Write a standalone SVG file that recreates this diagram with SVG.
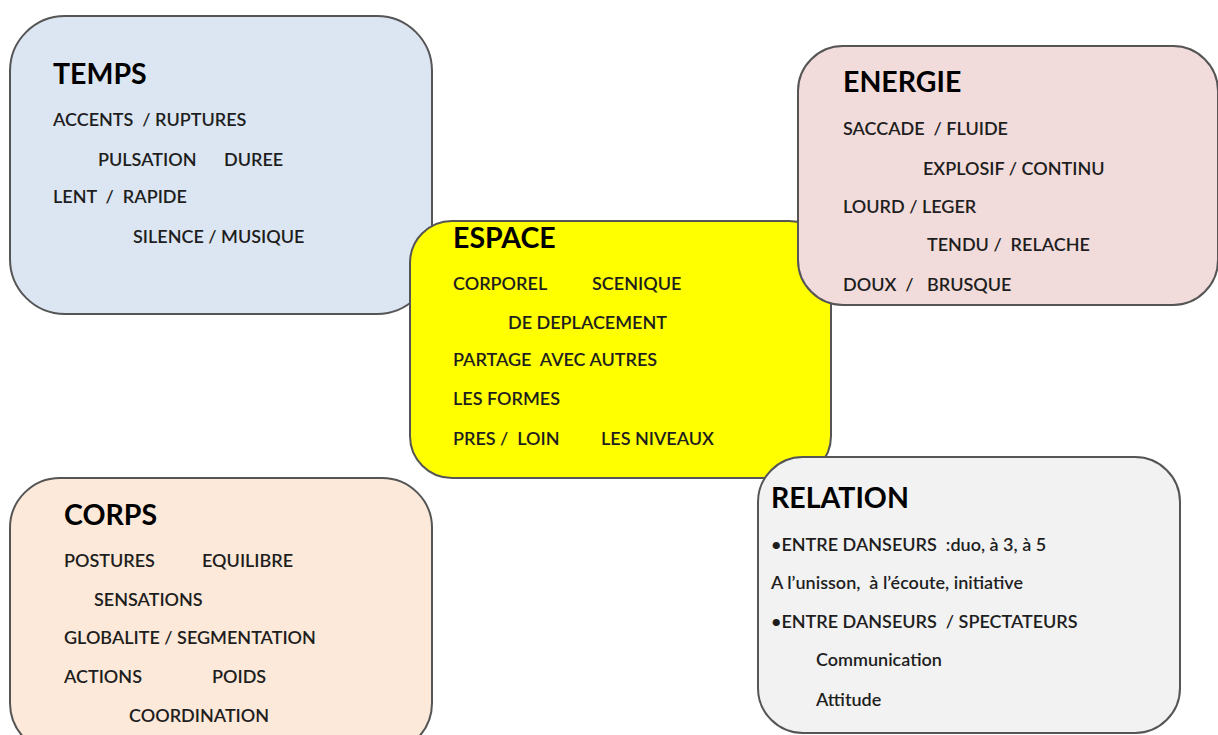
<svg xmlns="http://www.w3.org/2000/svg" width="1218" height="735" viewBox="0 0 1218 735">
<style>
.box{stroke:#555;stroke-width:2}
text{white-space:pre}
.t{font-family:Lato,"Open Sans","Liberation Sans",sans-serif;font-weight:bold;font-size:28.5px;fill:#000}
.b{font-family:Lato,"Open Sans","Liberation Sans",sans-serif;font-size:18px;fill:#1e1e1e;font-weight:600}
</style>
<rect width="1218" height="735" fill="#fff"/>
<g id="temps">
<rect class="box" x="10" y="16" width="422" height="298" rx="55" fill="#dce6f2"/>
<text class="t" x="53" y="84">TEMPS</text>
<text class="b" x="53" y="126" xml:space="preserve">ACCENTS  / RUPTURES</text>
<text class="b" x="98" y="166">PULSATION</text>
<text class="b" x="224" y="166">DUREE</text>
<text class="b" x="53" y="203" xml:space="preserve">LENT  /  RAPIDE</text>
<text class="b" x="133" y="243">SILENCE / MUSIQUE</text>
</g>
<g id="espace">
<rect class="box" x="410" y="221" width="421" height="257" rx="42" fill="#ffff00"/>
<text class="t" x="453" y="248">ESPACE</text>
<text class="b" x="453" y="290">CORPOREL</text>
<text class="b" x="592" y="290">SCENIQUE</text>
<text class="b" x="508" y="329">DE DEPLACEMENT</text>
<text class="b" x="453" y="366" xml:space="preserve">PARTAGE  AVEC AUTRES</text>
<text class="b" x="453" y="405">LES FORMES</text>
<text class="b" x="453" y="445" xml:space="preserve">PRES /  LOIN</text>
<text class="b" x="601" y="445">LES NIVEAUX</text>
</g>
<g id="energie">
<rect class="box" x="798" y="46" width="420" height="259" rx="45" fill="#f2dcdb"/>
<text class="t" x="843" y="92">ENERGIE</text>
<text class="b" x="843" y="135" xml:space="preserve">SACCADE  / FLUIDE</text>
<text class="b" x="923" y="175">EXPLOSIF / CONTINU</text>
<text class="b" x="843" y="213">LOURD / LEGER</text>
<text class="b" x="927" y="251" xml:space="preserve">TENDU /  RELACHE</text>
<text class="b" x="843" y="291" xml:space="preserve">DOUX  /   BRUSQUE</text>
</g>
<g id="corps">
<rect class="box" x="10" y="478" width="422" height="275" rx="50" fill="#fde9d9"/>
<text class="t" x="64" y="525">CORPS</text>
<text class="b" x="64" y="567">POSTURES</text>
<text class="b" x="202" y="567">EQUILIBRE</text>
<text class="b" x="94" y="606">SENSATIONS</text>
<text class="b" x="64" y="644">GLOBALITE / SEGMENTATION</text>
<text class="b" x="64" y="683">ACTIONS</text>
<text class="b" x="212" y="683">POIDS</text>
<text class="b" x="129" y="722">COORDINATION</text>
</g>
<g id="relation">
<rect class="box" x="758" y="457" width="422" height="276" rx="45" fill="#f2f2f2"/>
<text class="t" x="771" y="508">RELATION</text>
<text class="b" x="771" y="551" xml:space="preserve">•ENTRE DANSEURS  :duo, à 3, à 5</text>
<text class="b" x="771" y="589" xml:space="preserve">A l’unisson,  à l’écoute, initiative</text>
<text class="b" x="771" y="628" xml:space="preserve">•ENTRE DANSEURS  / SPECTATEURS</text>
<text class="b" x="816" y="666">Communication</text>
<text class="b" x="816" y="706">Attitude</text>
</g>
<g id="connectors"/>
</svg>
